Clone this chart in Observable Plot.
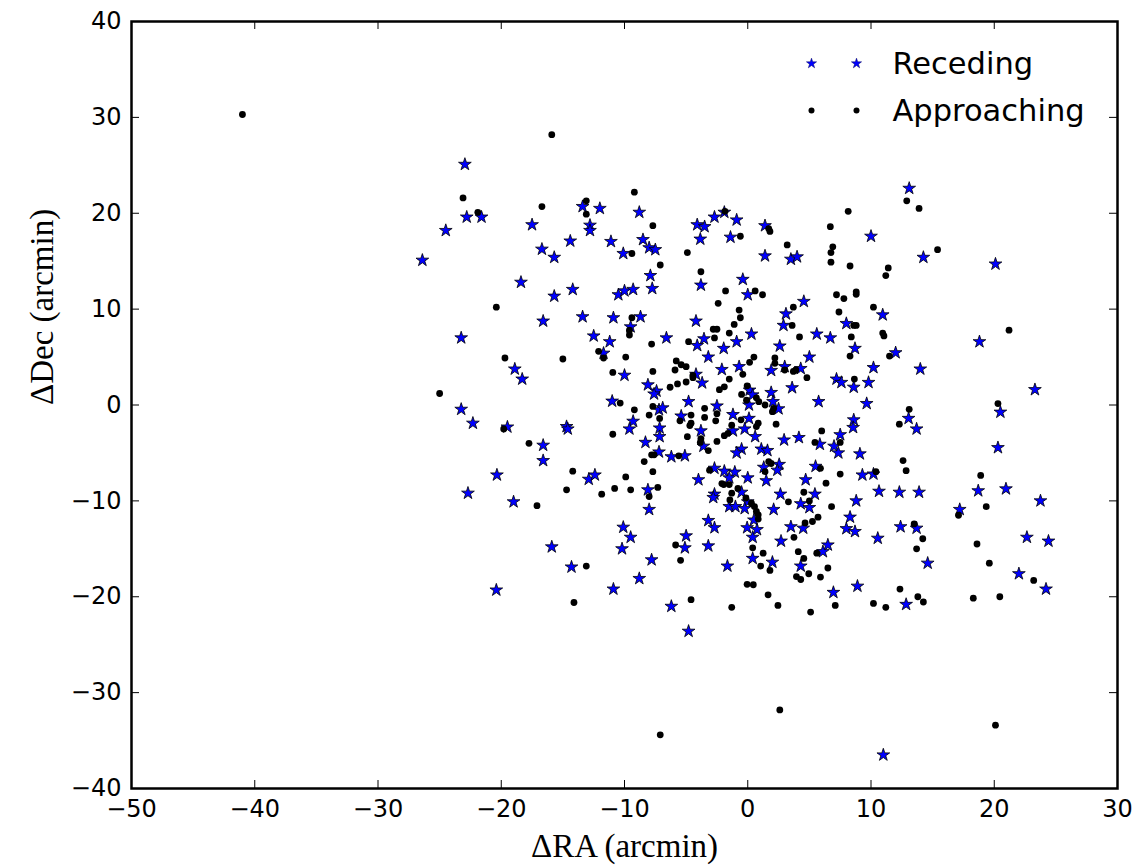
<!DOCTYPE html>
<html>
<head>
<meta charset="utf-8">
<script src="https://cdn.jsdelivr.net/npm/d3@7"></script>
<script src="https://cdn.jsdelivr.net/npm/@observablehq/plot@0.6"></script>
<style>
  html, body { margin: 0; padding: 0; background: #fff; }
  #chart { width: 1142px; height: 868px; }
</style>
</head>
<body>
<div id="chart"></div>
<script>
// ---- Data (arcmin offsets) ----
const seriesNames = ["Receding", "Approaching"];
const xLabel = "ΔRA (arcmin)";
const yLabel = "ΔDec (arcmin)";
const xTicks = [-50, -40, -30, -20, -10, 0, 10, 20, 30];
const yTicks = [-40, -30, -20, -10, 0, 10, 20, 30, 40];

// Receding members: [ΔRA, ΔDec]
const receding = [
  [-22.95,25.1],[-22.8,19.6],[-21.6,19.6],[-24.5,18.2],[-26.4,15.1],[-17.5,18.8],[-16.7,16.25],[-15.7,15.4],
  [-14.4,17.1],[-13.4,20.7],[-12.0,20.5],[-12.8,18.75],[-12.8,18.2],[-11.1,17.05],[-10.1,15.8],[-18.4,12.8],
  [-15.7,11.35],[-14.2,12.05],[-16.6,8.75],[-13.4,9.2],[-10.9,9.1],[-10.5,11.5],[-10.0,11.9],[-9.3,12.05],
  [-23.25,7.0],[-12.5,7.2],[-11.2,6.6],[-11.7,5.4],[-9.5,8.15],
  [-8.8,20.1],[-8.5,17.25],[-8.0,16.4],[-7.5,16.2],[-7.9,13.5],[-7.75,12.15],[-8.7,9.2],[-6.6,7.0],
  [-4.1,18.8],[-3.5,18.6],[-3.85,17.3],[-2.7,19.6],[-1.9,20.1],[-0.9,19.3],[-1.4,17.5],[1.4,18.7],[1.4,15.55],
  [3.5,15.2],[4.0,15.45],[-3.8,12.5],[-0.4,13.1],[0.0,11.5],[4.55,10.8],[3.1,9.5],[2.9,8.3],[-4.2,8.75],
  [0.3,7.4],[-0.9,6.6],[-3.55,6.9],[-4.1,6.2],[-1.95,5.9],[-3.2,5.0],[2.6,6.15],[5.6,7.4],[6.7,7.0],[5.0,5.0],
  [13.1,22.6],[10.0,17.6],[14.25,15.4],[20.1,14.7],[10.95,9.4],[8.0,8.5],[8.7,5.9],[12.0,5.45],[18.8,6.6],
  [-18.9,3.75],[-18.3,2.7],[-23.25,-0.45],[-22.3,-1.9],[-19.5,-2.3],[-16.6,-4.2],[-16.6,-5.8],[-14.7,-2.25],
  [-14.6,-2.5],[-20.35,-7.3],[-22.7,-9.2],[-19.0,-10.1],[-15.9,-14.8],[-12.9,-7.75],[-12.4,-7.3],[-11.0,0.4],
  [-10.0,3.1],[-9.3,-1.7],[-9.6,-2.5],[-10.1,-12.75],[-9.5,-13.8],[-10.2,-15.0],
  [-4.2,3.2],[-3.7,2.3],[-2.1,3.7],[-0.7,4.0],[1.9,3.6],[3.0,4.0],[4.3,3.8],[3.6,1.8],[7.2,2.7],[7.6,2.35],
  [5.75,0.35],[-8.1,2.1],[-7.4,1.45],[-7.6,1.15],[0.15,1.55],[0.4,1.05],[1.9,1.3],[-4.8,0.35],[-2.5,-0.1],
  [0.1,0.0],[2.05,0.35],[2.5,-0.4],[-7.2,-0.5],[-6.9,-0.3],[-5.4,-1.15],[-1.2,-1.0],[0.1,-1.4],[-7.15,-2.4],
  [-7.15,-3.3],[-3.8,-2.7],[-1.2,-2.7],[-0.25,-2.5],[0.6,-3.3],[-8.3,-3.9],[-3.6,-4.3],[-7.2,-4.9],[-6.2,-5.4],
  [-5.1,-5.3],[-0.5,-4.6],[-0.9,-5.0],[1.1,-4.6],[1.6,-4.75],[2.95,-3.65],[4.15,-3.4],[5.85,-4.1],[7.0,-4.3],
  [7.35,-5.0],[7.5,-3.1],[1.3,-6.5],[2.55,-6.2],[2.4,-6.8],[5.5,-6.4],[-2.7,-6.6],[-1.9,-6.9],[-1.05,-7.0],
  [-1.5,-7.6],[-4.0,-7.8],[0.0,-7.6],[1.5,-7.9],[4.7,-7.8],[-8.1,-8.85],[-2.7,-9.3],[-2.8,-9.65],[-0.5,-9.1],
  [0.0,-10.1],[2.65,-9.3],[5.45,-9.3],[4.3,-10.3],[5.0,-10.7],[-1.5,-10.6],[-1.0,-10.6],[-0.25,-10.8],
  [2.1,-10.9],[-8.0,-10.9],[-3.2,-12.05],[-2.7,-12.8],[-0.05,-12.8],[0.5,-12.0],[0.75,-13.0],[3.5,-12.7],
  [4.5,-12.85],[0.4,-13.8],[-5.0,-13.65],[-5.1,-14.9],[-3.2,-14.7],[2.7,-14.2],[6.5,-14.6],[6.1,-15.3],
  [10.2,3.9],[14.0,3.75],[8.6,1.85],[9.8,2.35],[9.65,0.15],[8.6,-1.55],[8.55,-2.35],[13.05,-1.4],[13.7,-2.5],
  [9.1,-5.1],[9.3,-7.3],[10.2,-7.2],[10.65,-9.0],[12.3,-9.1],[13.9,-9.1],[8.8,-10.0],[8.3,-11.7],[8.0,-12.9],
  [8.7,-13.2],[10.55,-13.9],[12.4,-12.7],[13.7,-12.85],[20.5,-0.75],[23.3,1.6],[20.3,-4.45],[18.7,-8.95],
  [20.95,-8.75],[23.75,-10.0],[17.2,-10.9],[22.65,-13.8],[24.4,-14.2],
  [-14.3,-16.9],[-20.4,-19.3],[-10.9,-19.2],
  [-7.8,-16.15],[-8.8,-18.1],[-6.2,-21.0],[-4.8,-23.6],[-1.65,-16.8],[0.4,-16.0],[2.0,-16.4],[4.3,-16.8],
  [6.95,-19.55],
  [14.6,-16.5],[8.9,-18.9],[12.85,-20.8],[22.0,-17.6],[24.2,-19.2],[11.0,-36.5]
];

// Approaching members: [ΔRA, ΔDec]
const approaching = [
  [-41.0,30.3],[-15.9,28.2],
  [-23.1,21.6],[-21.9,20.1],[-16.7,20.7],[-13.1,21.3],[-13.1,19.9],[-9.2,22.2],[-9.4,15.8],[-20.4,10.2],
  [-9.4,9.1],[-9.6,7.8],[-9.6,7.3],[-12.1,5.6],[-19.7,4.9],[-15.0,4.8],[-9.9,5.0],[-11.7,4.9],
  [-7.7,18.7],[-7.1,14.6],[-4.9,15.9],[-1.85,20.2],[-0.6,17.6],[1.7,18.4],[1.8,18.1],[3.2,16.7],[6.7,18.6],
  [6.9,16.5],[6.75,15.9],[6.75,14.9],[-3.8,13.9],[-1.8,11.9],[-2.4,10.6],[0.6,11.9],[1.2,11.5],[-0.7,9.9],
  [-0.6,9.1],[-1.1,8.4],[-2.8,7.9],[-2.5,7.9],[-1.5,7.5],[-2.7,7.0],[-7.8,6.35],[-4.8,6.6],[0.5,5.0],[2.2,4.9],
  [3.6,8.3],[3.7,10.2],[4.2,7.1],[7.2,11.5],[7.8,11.1],[7.4,9.7],[-5.8,4.6],
  [8.15,20.2],[12.9,21.3],[13.9,20.5],[15.4,16.2],[8.3,14.5],[11.4,14.3],[11.2,13.5],[8.8,11.8],[8.8,11.55],
  [10.2,10.2],[8.6,8.3],[8.8,8.3],[8.4,7.1],[10.95,7.5],[11.05,7.2],[21.2,7.8],[8.3,5.1],[11.5,5.1],
  [-25.0,1.2],[-10.95,3.4],[-10.35,0.2],[-9.2,-0.5],[-19.8,-2.5],[-10.95,-3.05],[-17.75,-4.0],[-14.2,-6.9],
  [-14.7,-8.85],[-11.85,-9.3],[-10.8,-8.7],[-9.9,-7.5],[-9.5,-8.85],[-17.1,-10.5],
  [-5.4,4.2],[-5.0,4.0],[-5.9,3.65],[-7.7,3.5],[-4.45,3.1],[-1.5,2.7],[-0.4,3.2],[0.15,4.45],[2.2,4.35],
  [3.0,3.65],[3.7,3.5],[3.9,3.65],[4.8,2.85],[-6.3,1.85],[-5.7,2.2],[-5.0,2.4],[-4.45,2.85],[-2.3,1.6],
  [-1.9,1.9],[-0.05,2.0],[-0.5,1.1],[-0.1,0.5],[0.7,0.75],[0.9,0.35],[1.4,0.0],[2.1,-0.35],[2.0,-0.7],
  [-8.0,-1.05],[-7.7,-0.15],[-7.15,-1.4],[-3.5,-0.35],[-3.5,-1.3],[-4.6,-1.05],[-4.6,-1.9],[-4.7,-2.15],
  [-5.5,-1.65],[-2.5,-0.9],[-2.6,-1.65],[-1.3,-2.1],[-0.55,-1.55],[0.85,-1.9],[0.7,-2.25],[2.3,-2.0],
  [-4.9,-3.3],[-3.8,-3.5],[-3.85,-3.9],[-1.9,-3.2],[-1.6,-2.95],[-2.5,-3.8],[-3.2,-4.75],[-7.6,-5.2],
  [-7.8,-5.2],[-5.6,-5.3],[-8.4,-5.9],[-7.7,-6.95],[-7.3,-8.6],[-8.0,-9.55],[-3.1,-6.8],[-2.1,-8.2],
  [-1.95,-8.3],[-1.5,-8.3],[-1.3,-9.2],[-1.45,-9.9],[-0.8,-8.7],[-0.15,-9.7],[0.3,-10.25],[0.55,-10.6],
  [0.7,-11.1],[0.85,-11.45],[0.85,-11.9],[1.4,-6.95],[1.7,-5.9],[1.9,-6.1],[6.0,-2.7],[5.45,-3.9],[7.5,-3.9],
  [5.9,-6.6],[7.5,-7.2],[6.35,-8.15],[4.55,-9.1],[3.3,-10.1],[5.0,-10.0],[6.8,-10.6],[5.7,-11.7],[5.25,-12.15],
  [4.65,-12.3],[3.75,-13.8],[-5.85,-14.6],[0.4,-14.9],[1.25,-15.45],[4.1,-15.3],[5.6,-15.45],
  [8.65,2.7],[13.1,-0.45],[12.3,-2.0],[12.6,-5.8],[12.85,-6.85],[10.4,-6.95],[13.5,-12.4],[14.2,-13.95],
  [13.7,-15.0],[20.3,0.15],[18.9,-7.35],[19.35,-10.6],[17.1,-11.5],[18.6,-14.5],
  [-13.1,-16.8],[-14.1,-20.6],
  [-5.45,-16.2],[-4.6,-20.3],[-1.3,-21.1],[1.05,-16.8],[1.8,-17.25],[-0.05,-18.7],[0.45,-18.75],[1.65,-19.8],
  [2.45,-20.9],[4.55,-16.0],[3.95,-17.9],[4.3,-18.2],[4.95,-17.6],[5.9,-17.95],[6.5,-17.0],[5.1,-21.6],
  [7.1,-20.9],[2.6,-31.8],[-7.1,-34.4],
  [12.35,-19.2],[10.2,-20.7],[11.2,-21.1],[13.8,-20.0],[14.25,-20.55],[19.6,-16.5],[18.3,-20.15],[20.45,-20.0],
  [23.2,-18.3],[20.1,-33.4]
];

// ---- Layout ----
const W = 1142, H = 868;
const mL = 131, mR = 25, mT = 21, mB = 80;
const innerW = W - mL - mR, innerH = H - mT - mB;
const tickLen = 8;
const sansFont = "'DejaVu Sans', 'Bitstream Vera Sans', sans-serif";
const serifFont = "'Liberation Serif', 'DejaVu Serif', serif";
const starBlue = "#0000ff";

const chart = Plot.plot({
  width: W,
  height: H,
  marginLeft: mL, marginRight: mR, marginTop: mT, marginBottom: mB,
  x: {domain: [-50, 30], label: null},
  y: {domain: [-40, 40], label: null},
  style: {fontFamily: sansFont, fontSize: "24px", color: "black", background: "white", overflow: "visible"},
  marks: [
    // data
    Plot.dot(receding, {x: d => d[0], y: d => d[1], symbol: "star", r: 4.0, fill: starBlue, stroke: "black", strokeWidth: 0.8}),
    Plot.dot(approaching, {x: d => d[0], y: d => d[1], r: 3.4, fill: "black", stroke: "none"}),
    // inward ticks on all four sides
    Plot.tickX(xTicks, {x: d => d, insetTop: innerH - tickLen, stroke: "black", strokeWidth: 1}),
    Plot.tickX(xTicks, {x: d => d, insetBottom: innerH - tickLen, stroke: "black", strokeWidth: 1}),
    Plot.tickY(yTicks, {y: d => d, insetRight: innerW - tickLen, stroke: "black", strokeWidth: 1}),
    Plot.tickY(yTicks, {y: d => d, insetLeft: innerW - tickLen, stroke: "black", strokeWidth: 1}),
    // tick labels
    Plot.axisX(xTicks, {anchor: "bottom", tickSize: 0, tickPadding: 11, fontSize: 24, label: null}),
    Plot.axisY(yTicks, {anchor: "left", tickSize: 0, tickPadding: 10, fontSize: 24, label: null}),
    // frame
    Plot.frame({stroke: "black", strokeWidth: 2.5}),
    // axis titles
    Plot.text([xLabel], {text: d => d, frameAnchor: "bottom", dy: 58, lineAnchor: "middle", fontFamily: serifFont, fontSize: 33, letterSpacing: "1.5px", fill: "black"}),
    Plot.text([yLabel], {text: d => d, frameAnchor: "left", dx: -89, lineAnchor: "middle", rotate: -90, fontFamily: serifFont, fontSize: 33, letterSpacing: "1.5px", fill: "black"}),
    // legend: Receding
    Plot.dot([seriesNames[0]], {frameAnchor: "top-right", dx: -306, dy: 42, symbol: "star", r: 3.2, fill: starBlue, stroke: "#000060", strokeWidth: 0.5}),
    Plot.dot([seriesNames[0]], {frameAnchor: "top-right", dx: -261, dy: 42, symbol: "star", r: 3.2, fill: starBlue, stroke: "#000060", strokeWidth: 0.5}),
    Plot.text([seriesNames[0]], {text: d => d, frameAnchor: "top-right", dx: -225, dy: 43, textAnchor: "start", lineAnchor: "middle", fontSize: 30.5, fontFamily: sansFont, fill: "black"}),
    // legend: Approaching
    Plot.dot([seriesNames[1]], {frameAnchor: "top-right", dx: -306, dy: 89, r: 3.0, fill: "black"}),
    Plot.dot([seriesNames[1]], {frameAnchor: "top-right", dx: -261, dy: 89, r: 3.0, fill: "black"}),
    Plot.text([seriesNames[1]], {text: d => d, frameAnchor: "top-right", dx: -225, dy: 90, textAnchor: "start", lineAnchor: "middle", fontSize: 30.5, fontFamily: sansFont, fill: "black"})
  ]
});

document.getElementById("chart").appendChild(chart);
</script>
</body>
</html>
